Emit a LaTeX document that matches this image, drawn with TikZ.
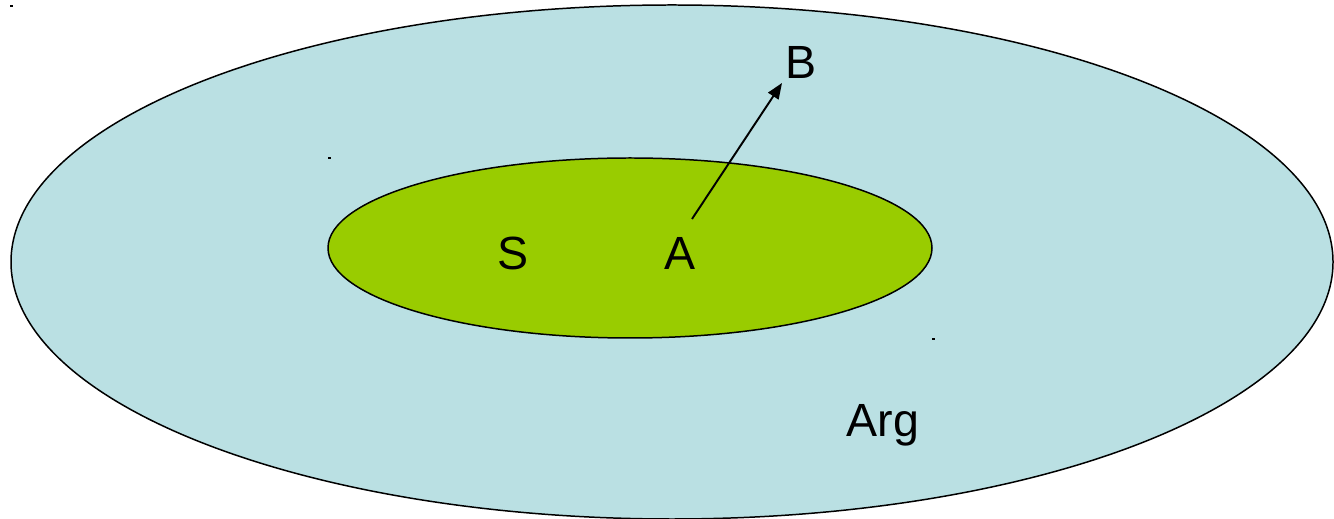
\documentclass[tikz,border=0pt]{standalone}
\usepackage{fontspec}
\setmainfont{Liberation Sans}
\usetikzlibrary{arrows.meta,positioning}
\definecolor{argBlue}{HTML}{BAE0E3}
\definecolor{setGreen}{HTML}{99CC00}
\tikzset{
  region/.style={draw=black,line width=.85pt},
  lbl/.style={font=\fontsize{26.5}{30}\selectfont,inner sep=0pt},
  attack/.style={-{Triangle[length=9pt,width=7pt]},line width=1.1pt},
  speck/.style={fill=black}
}

\begin{document}
\begin{tikzpicture}[x=.02cm,y=-.02cm]
  % picture frame in pixel units
  \useasboundingbox (0,0) rectangle (1334,519);
  \draw[region,fill=argBlue] (672,262) ellipse [x radius=661,y radius=257];
  \draw[region,fill=setGreen] (630,248) ellipse [x radius=302,y radius=90];

  \node[lbl] (S) at (513,253) {S};
  \node[lbl] (A) at (680,253) {A};
  \node[lbl] (B) at (801,62) {B};
  \node[lbl] (arg) at (883,425) {Arg};

  \coordinate (tail) at (692,219);
  \coordinate (head) at (782,83);
  \draw[attack] (tail) -- (head);

  % stray marks of the original
  \fill[speck] (10,5) rectangle (13,7);
  \fill[speck] (328,157) rectangle (331,159);
  \fill[speck] (932,338) rectangle (935,340);
\end{tikzpicture}
\end{document}
